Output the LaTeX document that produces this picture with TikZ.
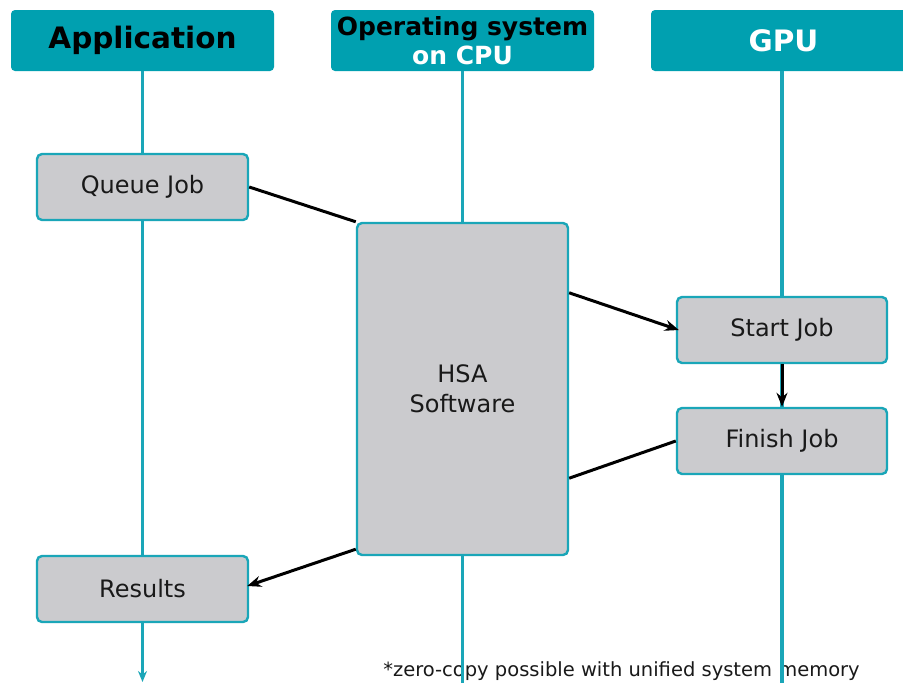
\documentclass[tikz,border=0pt]{standalone}
\usepackage{fontspec}
\setmainfont{DejaVu Sans}
\usetikzlibrary{arrows.meta}
\definecolor{teal1}{HTML}{00A0B0}
\definecolor{tealline}{HTML}{1AA6B8}
\definecolor{boxgray}{HTML}{CBCBCE}
\tikzset{
  header/.style={fill=teal1, draw=none, rounded corners=4pt, inner sep=0pt,
    minimum height=61pt, align=center, font=\bfseries\fontsize{29.5}{32}\selectfont},
  stepbox/.style={fill=boxgray, draw=tealline, line width=2.4pt, rounded corners=5pt,
    inner sep=0pt, minimum width=211pt, minimum height=66pt, align=center,
    text=black!90, font=\fontsize{24}{30}\selectfont},
  lifeline/.style={draw=tealline, line width=3.4pt},
  msg/.style={draw=black, line width=3pt},
  msgarrow/.style={msg, -{Stealth[length=14pt,width=11pt]}}
}
\begin{document}
\begin{tikzpicture}[x=1pt, y=-1pt]
\useasboundingbox (0,0) rectangle (903,683);
\fill[white] (0,0) rectangle (903,683);

% column headers
\node[header, minimum width=263pt] (app) at (142.5,40.5) {Application};
\node[header, minimum width=263pt, font=\bfseries\fontsize{25}{30}\selectfont] (os) at (462.5,40.5)
  {Operating system\\[-1pt]\textcolor{white}{on CPU}};
\node[header, minimum width=259pt, text=white] (gpu) at (780.5,40.5) {};
\node[text=white, font=\bfseries\fontsize{29.5}{32}\selectfont] (gputxt) at (783.5,40.5) {GPU};

% footnote
\node[font=\fontsize{19.5}{22}\selectfont, text=black!90, inner sep=0pt] (note) at (621.5,671) {*zero-copy possible with unified system memory};

% lifelines
\coordinate (append) at (142.5,682);
\coordinate (osend) at (462.5,690);
\coordinate (gpuend) at (782,690);
\draw[lifeline, -{Stealth[length=11pt,width=9pt]}] (app.south) -- (append);
\draw[lifeline] (os.south) -- (osend);
\draw[lifeline] (782,71) -- (gpuend);

% activity boxes
\node[stepbox] (qj) at (142.5,187) {Queue Job};
\node[stepbox, minimum height=332pt] (hsa) at (462.5,389) {HSA\\Software};
\node[stepbox, minimum width=210pt] (sj) at (782,330) {Start Job};
\node[stepbox, minimum width=210pt] (fj) at (782,441) {Finish Job};
\node[stepbox] (res) at (142.5,589) {Results};

% messages
\draw[msg] (qj.east) -- (hsa.north west);
\draw[msgarrow] ([yshift=-71pt]hsa.north east) -- ([xshift=3pt]sj.west);
\draw[msgarrow] (sj.south) -- (fj.north);
\draw[msg] (fj.west) -- ([yshift=78pt]hsa.south east);
\draw[msgarrow] ([yshift=7pt]hsa.south west) -- ([xshift=-2pt,yshift=3pt]res.east);
\end{tikzpicture}
\end{document}
